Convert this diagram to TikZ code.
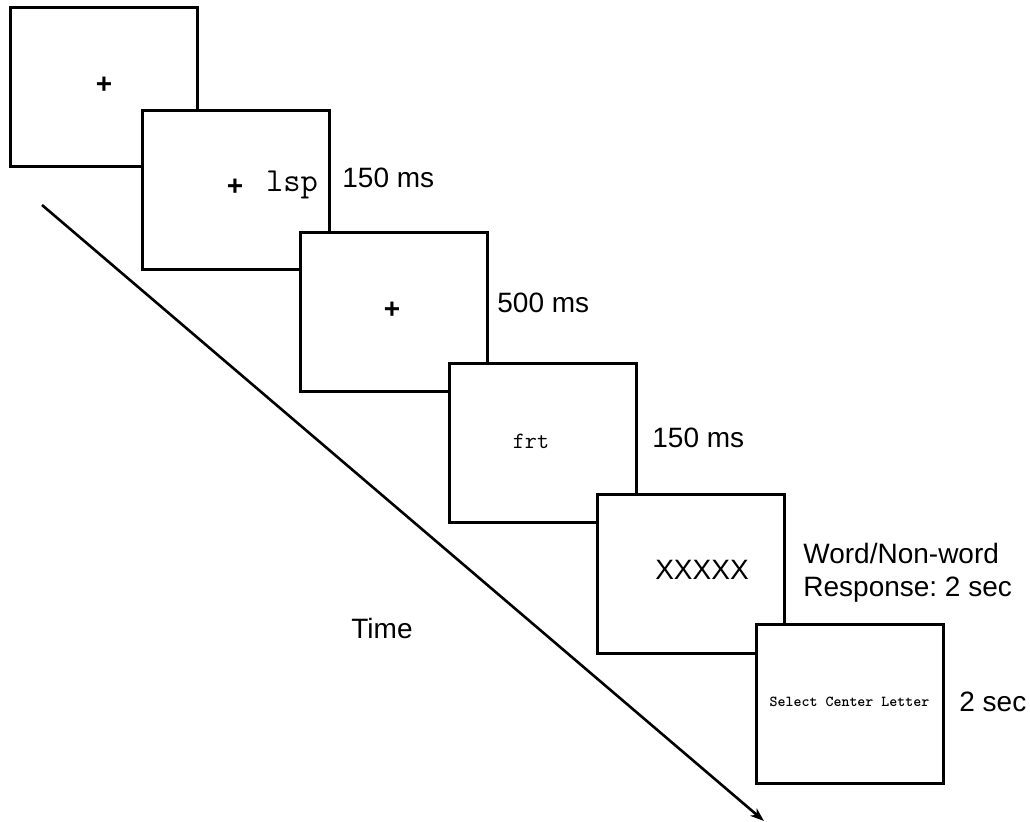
\documentclass[tikz,border=0pt]{standalone}
\usepackage{fontspec}
\setmainfont{Liberation Sans}
\usetikzlibrary{arrows.meta}
\frenchspacing
\tikzset{
    screen/.style={draw, line width=1.5pt, fill=white, minimum width=93.5pt, minimum height=79.5pt, inner sep=0pt},
    label/.style={anchor=base west, inner sep=0pt, align=left, font=\fontsize{14}{17}\selectfont},
    fix/.style={inner sep=0pt, font=\bfseries\fontsize{14}{17}\selectfont},
    mono/.style={inner sep=0pt},
    arrow/.style={-{Stealth[length=7pt, width=5pt]}, line width=1.3pt}
}

\begin{document}
\begin{tikzpicture}[x=0.5pt, y=-0.5pt]
\useasboundingbox (0,0) rectangle (1030,822);
% time axis
\coordinate (t0) at (42,205);
\coordinate (t1) at (764,821);
\draw[arrow] (t0) -- (t1);
\node[label] (time) at (351,639) {Time};
% screens
\node[screen] (s1) at (103.5,87.5) {};
\node[fix] (f1) at (104,85) {+};
\node[screen] (s2) at (236,190.5) {};
\node[fix] (f2) at (235,187) {+};
\node[mono, font=\ttfamily\fontsize{16.8}{19}\selectfont] (prime) at (292,185) {lsp};
\node[screen] (s3) at (393.5,312.5) {};
\node[fix] (f3) at (392,310) {+};
\node[screen] (s4) at (542.5,443.5) {};
\node[mono, font=\ttfamily\fontsize{11.7}{13}\selectfont] (target) at (531,441) {frt};
\node[screen] (s5) at (690.5,574) {};
\node[inner sep=0pt, font=\fontsize{14}{17}\selectfont] (mask) at (702,570) {XXXXX};
\node[screen] (s6) at (849.5,704.5) {};
\node[mono, font=\ttfamily\bfseries\fontsize{7.6}{9}\selectfont] (task) at (849.5,702) {Select Center Letter};
% durations
\node[label] (d2) at (342,188) {150 ms};
\node[label] (d3) at (497,313) {500 ms};
\node[label] (d4) at (652,448) {150 ms};
\node[label] (d5a) at (803,564) {Word/Non-word};
\node[label] (d5b) at (803,597) {Response: 2 sec};
\node[label] (d6) at (959,712) {2 sec};
\end{tikzpicture}
\end{document}
